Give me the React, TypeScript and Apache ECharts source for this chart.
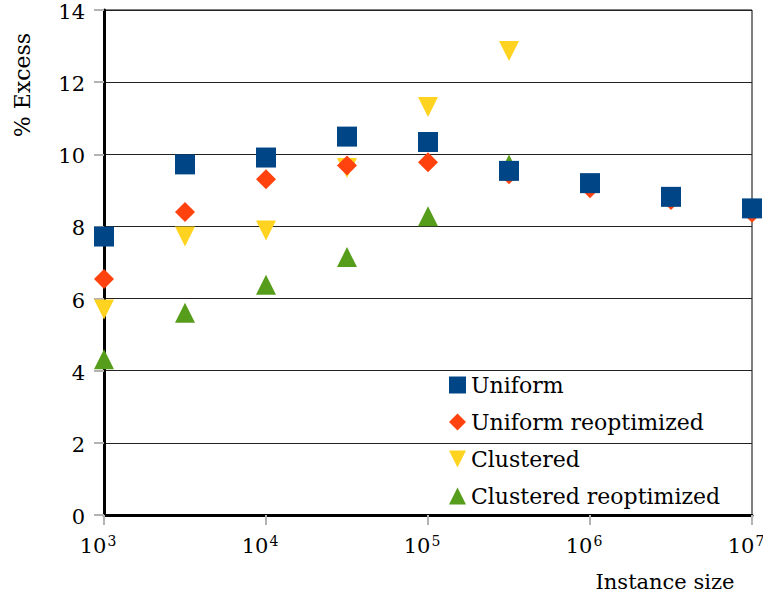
import React, { useEffect, useRef } from "react";
import * as echarts from "echarts";

const sizes = [1000, 3162, 10000, 31623, 100000, 316228, 1000000, 3162278, 10000000];
const uniform = [7.72, 9.72, 9.91, 10.49, 10.34, 9.54, 9.2, 8.82, 8.5];
const uniformReopt = [6.54, 8.4, 9.31, 9.69, 9.78, 9.45, 9.06, 8.73, 8.38];
const clustered = [5.7, 7.72, 7.89, 9.62, 11.31, 12.86];
const clusteredReopt = [4.32, 5.61, 6.38, 7.15, 8.28, 9.72];
const seriesNames = ["Uniform", "Uniform reoptimized", "Clustered", "Clustered reoptimized"];
const yTicks = { min: 0, max: 14, interval: 2 };

const FONT = "DejaVu Serif";
const DOWN_TRI = "path://M0,0 L10,0 L5,10 Z";

const pairs = (vals: number[]) => vals.map((v, i) => [sizes[i], v]);

export default function App() {
  const ref = useRef<HTMLDivElement>(null);
  useEffect(() => {
    if (!ref.current) return;
    const chart = echarts.init(ref.current, null, { renderer: "svg" });
    chart.setOption({
      animation: false,
      backgroundColor: "#fff",
      textStyle: { fontFamily: FONT, color: "#000" },
      grid: {
        left: 104,
        right: 11,
        top: 10,
        bottom: 81,
        containLabel: false,
        outerBoundsMode: "none",
        show: true,
        borderColor: "#000",
        borderWidth: 1,
      },
      legend: {
        orient: "vertical",
        left: 449,
        top: 374,
        padding: 0,
        itemWidth: 17,
        itemHeight: 17,
        itemGap: 15,
        textStyle: { fontFamily: FONT, fontSize: 22, color: "#000", lineHeight: 22, padding: [0, 0, 0, 0] },
        data: seriesNames,
      },
      xAxis: {
        type: "log",
        logBase: 10,
        min: 1000,
        max: 10000000,
        axisLine: { show: true, lineStyle: { color: "#000", width: 3 } },
        axisTick: { show: true, length: 10, lineStyle: { color: "#b3b3b3", width: 2 } },
        splitLine: { show: false },
        axisLabel: {
          margin: 19,
          color: "#000",
          fontFamily: FONT,
          fontSize: 21,
          padding: [0, 12, 0, 0],
          formatter: (v: number) => "10{s|" + Math.round(Math.log10(v)) + "}",
          rich: {
            s: { fontSize: 14, fontFamily: FONT, color: "#000", verticalAlign: "top", padding: [0, 0, 10, 1] },
          },
        },
      },
      yAxis: {
        type: "value",
        min: yTicks.min,
        max: yTicks.max,
        interval: yTicks.interval,
        axisLine: { show: true, lineStyle: { color: "#000", width: 3 } },
        axisTick: { show: true, length: 10, lineStyle: { color: "#b3b3b3", width: 2 } },
        splitLine: { show: true, lineStyle: { color: "#222", width: 1 } },
        axisLabel: {
          margin: 19,
          color: "#000",
          fontFamily: FONT,
          fontSize: 21,
          formatter: (v: number) => "{v|" + v + "}",
          rich: {
            v: { fontSize: 21, fontFamily: FONT, color: "#000", lineHeight: 14, padding: [4, 0, 0, 0] },
          },
        },
      },
      graphic: [
        {
          type: "text",
          x: 22,
          y: 85,
          rotation: Math.PI / 2,
          style: {
            text: "% Excess",
            font: `22px '${FONT}'`,
            fill: "#000",
            align: "center",
            verticalAlign: "middle",
            textAlign: "center",
            textVerticalAlign: "middle",
          },
        },
        {
          type: "text",
          x: 665,
          y: 582,
          style: {
            text: "Instance size",
            font: `21px '${FONT}'`,
            fill: "#000",
            align: "center",
            verticalAlign: "middle",
            textAlign: "center",
            textVerticalAlign: "middle",
          },
        },
      ],
      series: [
        {
          name: seriesNames[0],
          type: "scatter",
          symbol: "rect",
          symbolSize: 20,
          clip: false,
          z: 5,
          itemStyle: { color: "#004586", opacity: 1 },
          data: pairs(uniform),
        },
        {
          name: seriesNames[1],
          type: "scatter",
          symbol: "diamond",
          symbolSize: 20,
          clip: false,
          z: 4,
          itemStyle: { color: "#ff420e", opacity: 1 },
          data: pairs(uniformReopt),
        },
        {
          name: seriesNames[2],
          type: "scatter",
          symbol: DOWN_TRI,
          symbolSize: 20,
          clip: false,
          z: 3,
          itemStyle: { color: "#ffd320", opacity: 1 },
          data: pairs(clustered),
        },
        {
          name: seriesNames[3],
          type: "scatter",
          symbol: "triangle",
          symbolSize: 20,
          clip: false,
          z: 2,
          itemStyle: { color: "#579d1c", opacity: 1 },
          data: pairs(clusteredReopt),
        },
      ],
    });
    return () => chart.dispose();
  }, []);
  return <div ref={ref} style={{ width: 763, height: 596, position: "absolute", left: 0, top: 0 }} />;
}
